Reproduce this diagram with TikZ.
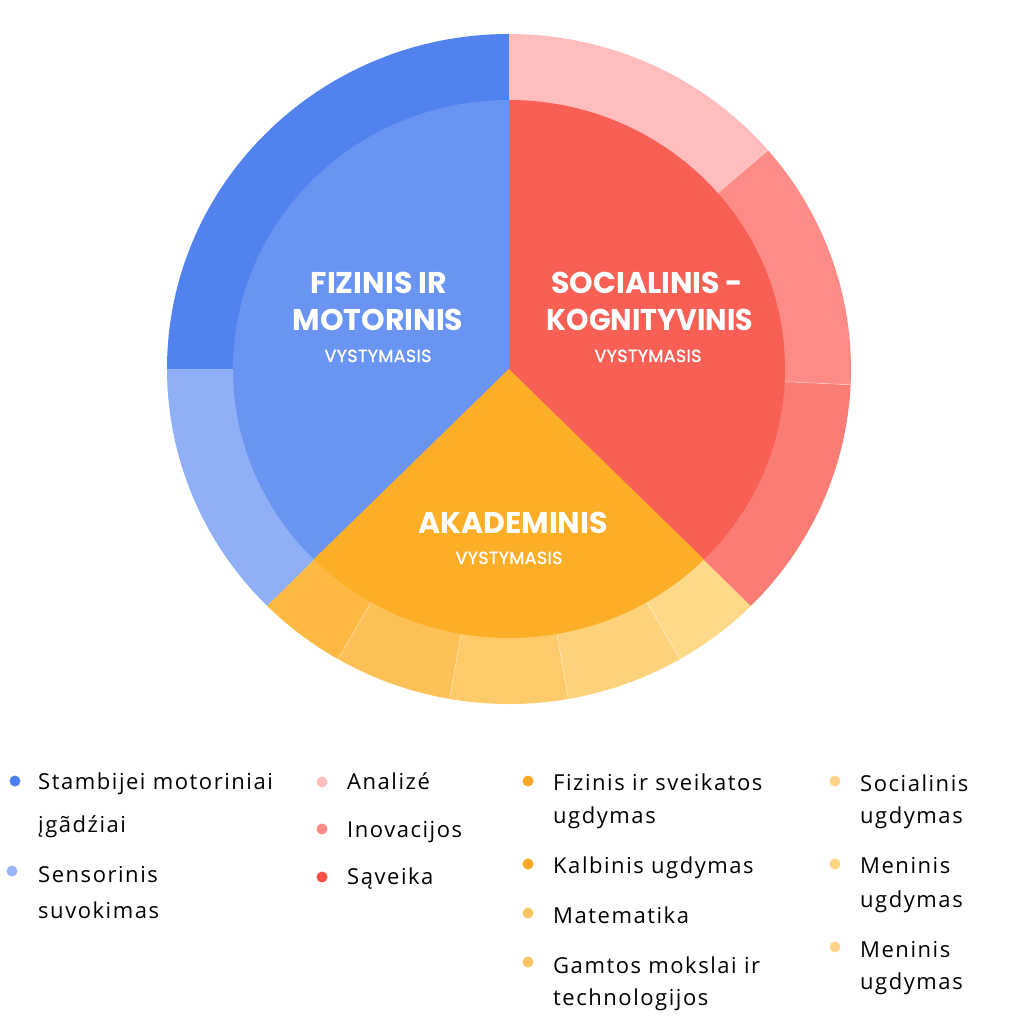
\documentclass[tikz,border=0pt]{standalone}
\usepackage{fontspec}
\setmainfont{Open Sans}
\newfontfamily\pop{Poppins}
\newfontfamily\popsub[LetterSpace=2,FakeBold=1.2]{Poppins}
\newfontfamily\legfont[LetterSpace=7]{Open Sans}
\definecolor{obl}{HTML}{5282EE}
\definecolor{ibl}{HTML}{6A94F2}
\definecolor{lbl}{HTML}{8FAFF6}
\definecolor{opk}{HTML}{FFBDBD}
\definecolor{osl}{HTML}{FE8C86}
\definecolor{osd}{HTML}{F97D74}
\definecolor{ird}{HTML}{F85F55}
\definecolor{ior}{HTML}{FBAE26}
\definecolor{oa}{HTML}{FDB942}
\definecolor{ob}{HTML}{FEC158}
\definecolor{oc}{HTML}{FECA6A}
\definecolor{od}{HTML}{FED27A}
\definecolor{oe}{HTML}{FED98A}
\definecolor{dblue}{HTML}{4F7FEE}
\definecolor{dlblue}{HTML}{9BB5F5}
\definecolor{dred}{HTML}{F84F47}
\definecolor{dor}{HTML}{F9A825}
\definecolor{dlor}{HTML}{FDC663}
\definecolor{dyel}{HTML}{FDD585}
\newcommand\outerw[3]{\fill[#1] (509,-369) -- ++(#2:342 and 335) arc[start angle=#2,end angle=#3,x radius=342,y radius=335] -- cycle;}
\newcommand\innerw[3]{\fill[#1] (509,-369) -- ++(#2:276 and 269) arc[start angle=#2,end angle=#3,x radius=276,y radius=269] -- cycle;}
\newcommand\sepline[1]{\draw[white,opacity=0.35,line width=0.8pt] (509,-369) ++(#1:276 and 269) -- ++(#1:66 and 66);}
\tikzset{
  ttl/.style={text=white,font=\pop\bfseries\fontsize{30}{34}\selectfont,inner sep=0pt},
  sub/.style={text=white,font=\popsub\fontsize{17.5}{20}\selectfont,inner sep=0pt},
  lg/.style={text=black,font=\legfont\fontsize{22}{26}\selectfont,inner sep=0pt,anchor=base west},
  dot/.style={circle,inner sep=0pt,minimum size=11pt}
}
\begin{document}
\begin{tikzpicture}[x=1pt,y=1pt]
\useasboundingbox (0,0) rectangle (1024,-1024);
\fill[white] (0,0) rectangle (1024,-1024);
% outer ring
\outerw{obl}{90}{180}
\outerw{lbl}{180}{225}
\outerw{oa}{225}{240}
\outerw{ob}{240}{260}
\outerw{oc}{260}{280}
\outerw{od}{280}{300}
\outerw{oe}{300}{315}
\outerw{osd}{315}{357.3}
\outerw{osl}{357.3}{400.8}
\outerw{opk}{40.8}{90}
\sepline{240}\sepline{260}\sepline{280}\sepline{300}\sepline{357.3}\sepline{40.8}
% inner pie
\innerw{ibl}{90}{225}
\innerw{ior}{225}{315}
\innerw{ird}{-45}{90}
% labels
\node[ttl,anchor=base] (t1a) at (379,-293) {FIZINIS IR};
\node[ttl,anchor=base] (t1b) at (378,-330) {MOTORINIS};
\node[sub,anchor=base] (t1c) at (378,-362) {VYSTYMASIS};
\node[ttl,anchor=base] (t2a) at (647,-293) {SOCIALINIS\,-};
\node[ttl,anchor=base,xscale=0.95] (t2b) at (650,-330) {KOGNITYVINIS};
\node[sub,anchor=base] (t2c) at (648,-362) {VYSTYMASIS};
\node[ttl,anchor=base] (t3a) at (513,-533) {AKADEMINIS};
\node[sub,anchor=base] (t3c) at (509,-564) {VYSTYMASIS};
% legend column 1
\node[dot,fill=dblue] (d1) at (15,-781) {};
\node[lg] (l1a) at (38,-789) {Stambijei motoriniai};
\node[lg] (l1b) at (38,-832) {įgãdźiai};
\node[dot,fill=dlblue] (d2) at (12,-871) {};
\node[lg] (l2a) at (38,-882) {Sensorinis};
\node[lg] (l2b) at (38,-918) {suvokimas};
% column 2
\node[dot,fill=opk] (d3) at (322,-782) {};
\node[lg] (l3) at (347,-789) {Analizé};
\node[dot,fill=osl] (d4) at (322,-829) {};
\node[lg] (l4) at (347,-837) {Inovacijos};
\node[dot,fill=dred] (d5) at (322,-877) {};
\node[lg] (l5) at (347,-884) {Sąveika};
% column 3
\node[dot,fill=dor] (d6) at (528,-781) {};
\node[lg] (l6a) at (553,-790) {Fizinis ir sveikatos};
\node[lg] (l6b) at (553,-823) {ugdymas};
\node[dot,fill=dor] (d7) at (528,-864) {};
\node[lg] (l7) at (553,-873) {Kalbinis ugdymas};
\node[dot,fill=dlor] (d8) at (528,-913) {};
\node[lg] (l8) at (553,-923) {Matematika};
\node[dot,fill=dlor] (d9) at (528,-962) {};
\node[lg] (l9a) at (553,-973) {Gamtos mokslai ir};
\node[lg] (l9b) at (553,-1005) {technologijos};
% column 4
\node[dot,fill=dyel] (d10) at (835,-781) {};
\node[lg] (l10a) at (860,-791) {Socialinis};
\node[lg] (l10b) at (860,-823) {ugdymas};
\node[dot,fill=dyel] (d11) at (835,-864) {};
\node[lg] (l11a) at (860,-873) {Meninis};
\node[lg] (l11b) at (860,-907) {ugdymas};
\node[dot,fill=dyel] (d12) at (835,-947) {};
\node[lg] (l12a) at (860,-957) {Meninis};
\node[lg] (l12b) at (860,-989) {ugdymas};
\end{tikzpicture}
\end{document}
